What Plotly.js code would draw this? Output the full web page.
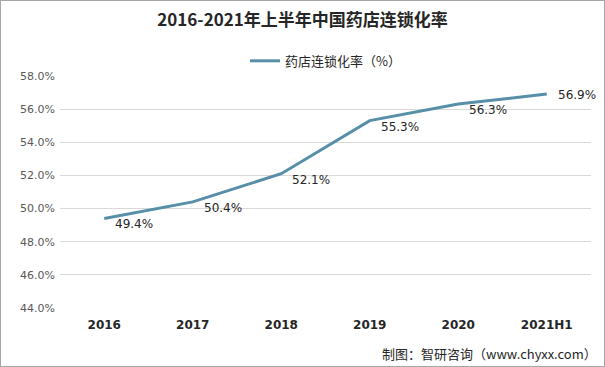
<!DOCTYPE html>
<html>
<head>
<meta charset="utf-8">
<script src="https://cdn.plot.ly/plotly-3.0.1.min.js"></script>
<style>
html,body{margin:0;padding:0;background:#fff;}
#wrap{width:605px;height:367px;box-sizing:border-box;border:1px solid #a6a6a6;position:relative;overflow:hidden;}
#chart{position:absolute;left:-1px;top:-1px;width:605px;height:367px;}
</style>
</head>
<body>
<div id="wrap"><div id="chart"></div></div>
<script>
var categories = ["2016", "2017", "2018", "2019", "2020", "2021H1"];
var rates = [49.4, 50.4, 52.1, 55.3, 56.3, 56.9];
var rateLabels = ["49.4%", "50.4%", "52.1%", "55.3%", "56.3%", "56.9%"];
var seriesName = "药店连锁化率（%）";
var titleText = "2016-2021年上半年中国药店连锁化率";
var sourceText = "制图：智研咨询（www.chyxx.com）";

var trace = {
  x: categories,
  y: rates,
  type: "scatter",
  mode: "lines",
  name: seriesName,
  line: {color: "#578ea8", width: 3},
  hoverinfo: "x+y"
};

var annotations = categories.map(function (c, i) {
  return {
    x: i, y: rates[i], xref: "x", yref: "y",
    text: rateLabels[i],
    showarrow: false,
    xanchor: "left", yanchor: "middle",
    xshift: 9, yshift: -6,
    font: {family: "DejaVu Sans, Noto Sans, sans-serif", size: 12, color: "#262626"}
  };
});
annotations[5].yshift = -1;

annotations.push({
  text: sourceText,
  xref: "paper", yref: "paper",
  x: 1.015, y: -0.195,
  xanchor: "right", yanchor: "middle",
  showarrow: false,
  font: {family: "Noto Sans CJK SC, sans-serif", size: 13, color: "#262626"}
});

var layout = {
  width: 605,
  height: 367,
  margin: {l: 60, r: 14, t: 75, b: 59},
  paper_bgcolor: "rgba(0,0,0,0)",
  plot_bgcolor: "#ffffff",
  title: {
    text: "<b>" + titleText + "</b>",
    x: 0.5, xanchor: "center",
    y: 0.945, yanchor: "middle",
    font: {family: "Noto Sans CJK SC, sans-serif", size: 17, color: "#262626"}
  },
  showlegend: true,
  legend: {
    orientation: "h",
    x: 0.5, xanchor: "center",
    y: 0.875, yref: "container", yanchor: "top",
    font: {family: "Noto Sans CJK SC, sans-serif", size: 13, color: "#262626"},
    itemwidth: 30
  },
  xaxis: {
    type: "category",
    range: [-0.5, 5.5],
    showgrid: false,
    showline: false,
    zeroline: false,
    ticks: "",
    ticklabelstandoff: 8,
    tickfont: {family: "DejaVu Sans, sans-serif", size: 12, color: "#262626", weight: "bold"}
  },
  yaxis: {
    range: [44, 58],
    dtick: 2,
    tick0: 44,
    tickformat: ".1f",
    ticksuffix: "%",
    showgrid: true,
    gridcolor: "#d9d9d9",
    gridwidth: 1,
    zeroline: false,
    showline: false,
    ticks: "",
    ticklabelstandoff: 4,
    tickfont: {family: "DejaVu Sans, sans-serif", size: 11, color: "#595959"}
  },
  annotations: annotations
};

Plotly.newPlot("chart", [trace], layout, {displayModeBar: false, staticPlot: true});
</script>
</body>
</html>
